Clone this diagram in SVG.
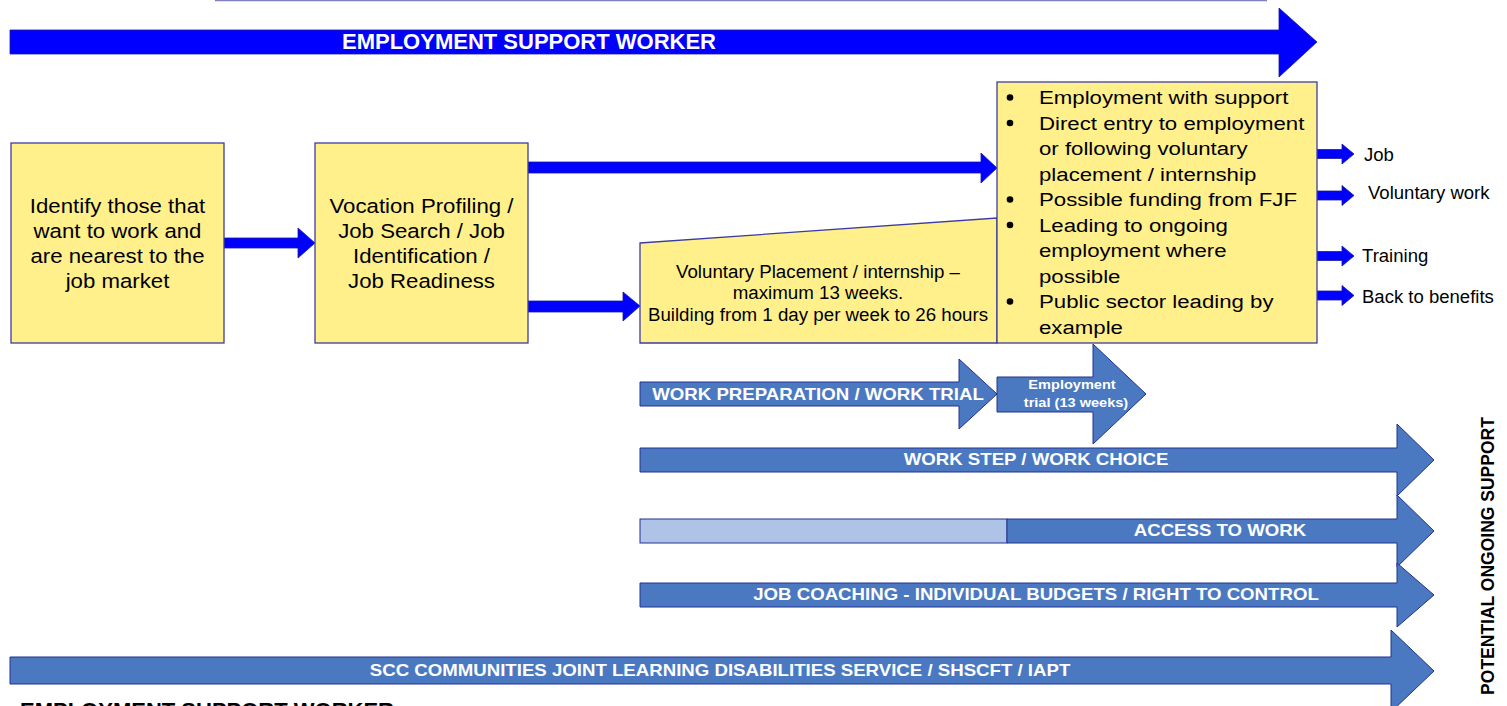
<svg xmlns="http://www.w3.org/2000/svg" width="1507" height="706" viewBox="0 0 1507 706">
<style>
.box{fill:#FFF08C;stroke:#3c3ca0;stroke-width:1.3}
.blue{fill:#0000FF;stroke:#1a1a9a;stroke-width:0.8}
.steel{fill:#4A79C2;stroke:#22328f;stroke-width:1}
.light{fill:#AFC3E6;stroke:#22328f;stroke-width:1}
.t{font-family:"Liberation Sans",Arial,sans-serif;fill:#000}
.w{font-family:"Liberation Sans",Arial,sans-serif;fill:#fff;font-weight:bold}
.b{font-family:"Liberation Sans",Arial,sans-serif;fill:#000;font-weight:bold}
.c{text-anchor:middle}
</style>
<line x1="215" y1="0.6" x2="1267" y2="0.6" stroke="#8080C0" stroke-width="1.5"/>
<g id="esw-top">
<polygon class="blue" points="10,30 1279,30 1279,8 1317,42 1279,77 1279,54 10,54"/>
<text class="w c" x="529" y="49" font-size="22">EMPLOYMENT SUPPORT WORKER</text>
</g>
<g id="connectors">
<polygon class="blue" points="224,238 298,238 298,228 315,243 298,258 298,248 224,248"/>
<polygon class="blue" points="528,162 981,162 981,153 997,168 981,183 981,173 528,173"/>
<polygon class="blue" points="528,301 623,301 623,292 640,306 623,321 623,312 528,312"/>
<polygon class="blue" points="1317,149.5 1342,149.5 1342,144 1354,154 1342,164 1342,158.5 1317,158.5"/>
<polygon class="blue" points="1317,191 1342,191 1342,185.5 1354,195.5 1342,205.5 1342,200 1317,200"/>
<polygon class="blue" points="1317,251.5 1342,251.5 1342,246 1354,256 1342,266 1342,260.5 1317,260.5"/>
<polygon class="blue" points="1317,291 1342,291 1342,285.5 1354,295.5 1342,305.5 1342,300 1317,300"/>
</g>
<g id="identify">
<rect class="box" x="11" y="143" width="213" height="200"/>
<g transform="translate(117.5,0) scale(1.14,1)" class="t c" font-size="19.5">
<text x="0" y="213">Identify those that</text>
<text x="0" y="238">want to work and</text>
<text x="0" y="263">are nearest to the</text>
<text x="0" y="288">job market</text>
</g>
</g>
<g id="vocation">
<rect class="box" x="315" y="143" width="213" height="200"/>
<g transform="translate(421.5,0) scale(1.14,1)" class="t c" font-size="19.5">
<text x="0" y="213">Vocation Profiling /</text>
<text x="0" y="238">Job Search / Job</text>
<text x="0" y="263">Identification /</text>
<text x="0" y="288">Job Readiness</text>
</g>
</g>
<g id="voluntary">
<polygon class="box" points="640,243 997,218 997,343 640,343"/>
<g transform="translate(818,0) scale(1.04,1)" class="t c" font-size="18">
<text x="0" y="278">Voluntary Placement / internship –</text>
<text x="0" y="299.5">maximum 13 weeks.</text>
<text x="0" y="321">Building from 1 day per week to 26 hours</text>
</g>
</g>
<g id="employment">
<rect class="box" x="997" y="82" width="320" height="261"/>
<g fill="#000">
<circle cx="1010" cy="97.5" r="3.3"/>
<circle cx="1010" cy="123" r="3.3"/>
<circle cx="1010" cy="199.5" r="3.3"/>
<circle cx="1010" cy="225" r="3.3"/>
<circle cx="1010" cy="301.5" r="3.3"/>
</g>
<g transform="translate(1039,0) scale(1.17,1)" class="t" font-size="19">
<text x="0" y="104.5">Employment with support</text>
<text x="0" y="130">Direct entry to employment</text>
<text x="0" y="155.5">or following voluntary</text>
<text x="0" y="181">placement / internship</text>
<text x="0" y="206.5">Possible funding from FJF</text>
<text x="0" y="232">Leading to ongoing</text>
<text x="0" y="257.5">employment where</text>
<text x="0" y="283">possible</text>
<text x="0" y="308.5">Public sector leading by</text>
<text x="0" y="334">example</text>
</g>
</g>
<g id="outcomes" class="t" font-size="17.5">
<text transform="translate(1364,160.5) scale(1.06,1)">Job</text>
<text transform="translate(1368,199) scale(1.06,1)">Voluntary work</text>
<text transform="translate(1362,261.5) scale(1.06,1)">Training</text>
<text transform="translate(1362,303) scale(1.06,1)">Back to benefits</text>
</g>
<g id="work-prep">
<polygon class="steel" points="640,382 959,382 959,359 997,394 959,429 959,406 640,406"/>
<text class="w c" font-size="16.5" transform="translate(818,400) scale(1.13,1)">WORK PREPARATION / WORK TRIAL</text>
</g>
<g id="employment-trial">
<polygon class="steel" points="997,377 1093,377 1093,344 1146,394 1093,444 1093,412 997,412"/>
<text class="w c" font-size="13" transform="translate(1072,389) scale(1.12,1)">Employment</text>
<text class="w c" font-size="13" transform="translate(1076,406.5) scale(1.12,1)">trial (13 weeks)</text>
</g>
<g id="work-step">
<polygon class="steel" points="640,448 1397,448 1397,424 1434,460 1397,496 1397,472 640,472"/>
<text class="w c" font-size="16.5" transform="translate(1036,464.5) scale(1.13,1)">WORK STEP / WORK CHOICE</text>
</g>
<g id="access-to-work">
<rect class="light" x="640" y="519" width="367" height="24"/>
<polygon class="steel" points="1007,519 1397,519 1397,495 1434,531 1397,567 1397,543 1007,543"/>
<text class="w c" font-size="16.5" transform="translate(1220,535.5) scale(1.13,1)">ACCESS TO WORK</text>
</g>
<g id="job-coaching">
<polygon class="steel" points="640,583 1397,583 1397,563 1434,595 1397,627 1397,607 640,607"/>
<text class="w c" font-size="16.5" transform="translate(1036,600) scale(1.13,1)">JOB COACHING - INDIVIDUAL BUDGETS / RIGHT TO CONTROL</text>
</g>
<g id="scc">
<polygon class="steel" points="10,657 1391,657 1391,630 1434,671 1391,712 1391,684 10,684"/>
<text class="w c" font-size="16.5" transform="translate(720,676) scale(1.13,1)">SCC COMMUNITIES JOINT LEARNING DISABILITIES SERVICE / SHSCFT / IAPT</text>
</g>
<g id="potential">
<text class="b c" font-size="17.5" transform="translate(1494,556) rotate(-90)">POTENTIAL ONGOING SUPPORT</text>
</g>
<g id="esw-bottom">
<text class="b" x="20" y="718" font-size="22">EMPLOYMENT SUPPORT WORKER</text>
</g>
</svg>
